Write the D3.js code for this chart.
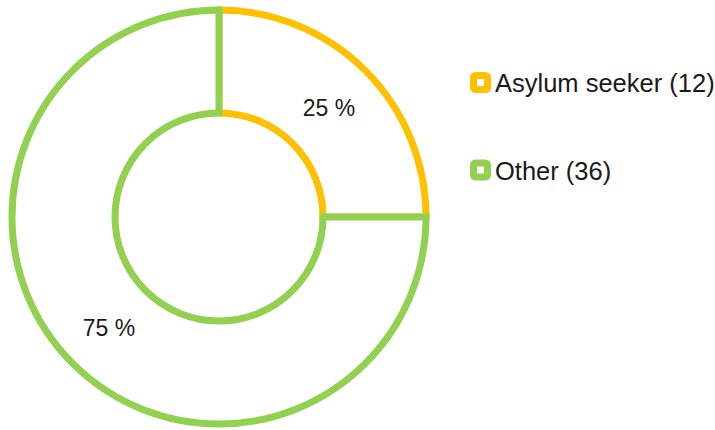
<!DOCTYPE html>
<html>
<head>
<meta charset="utf-8">
<script src="https://cdn.jsdelivr.net/npm/d3@7"></script>
<style>
  body { margin: 0; background: #fff; }
  text { font-family: "Liberation Sans", "DejaVu Sans", sans-serif; fill: #1a1a1a; }
</style>
</head>
<body>
<script>
// data
var categories = ["Asylum seeker", "Other"];
var counts = [12, 36];
var colors = ["#FFC000", "#92D050"];

var w = 715, h = 430;
var cx = 219, cy = 217;
var outerR = 207, innerR = 104;

var svg = d3.select("body").append("svg")
  .attr("width", w)
  .attr("height", h);

var total = d3.sum(counts);

var pie = d3.pie().sort(null).value(function(d) { return d; });
var arcs = pie(counts);

var arc = d3.arc()
  .innerRadius(innerR)
  .outerRadius(outerR);

var g = svg.append("g").attr("transform", "translate(" + cx + "," + cy + ")");

// slices: white fill, coloured outline
g.selectAll("path")
  .data(arcs)
  .enter()
  .append("path")
  .attr("d", arc)
  .attr("fill", "#fff")
  .attr("stroke", function(d, i) { return colors[i]; })
  .attr("stroke-width", 7)
  .attr("stroke-linejoin", "miter");

// percent labels at arc centroids
g.selectAll("text.pct")
  .data(arcs)
  .enter()
  .append("text")
  .attr("class", "pct")
  .attr("x", function(d) { return arc.centroid(d)[0]; })
  .attr("y", function(d) { return arc.centroid(d)[1] + 9; })
  .attr("text-anchor", "middle")
  .attr("font-size", "23px")
  .text(function(d) { return Math.round(d.value / total * 100) + " %"; });

// legend
var legend = svg.append("g").attr("transform", "translate(470,72)");
var item = legend.selectAll("g")
  .data(categories)
  .enter()
  .append("g")
  .attr("transform", function(d, i) { return "translate(0," + (i * 87.5) + ")"; });

item.append("rect")
  .attr("x", 3.5)
  .attr("y", 3.5)
  .attr("width", 14)
  .attr("height", 14)
  .attr("rx", 2)
  .attr("fill", "#fff")
  .attr("stroke", function(d, i) { return colors[i]; })
  .attr("stroke-width", 7);

item.append("text")
  .attr("x", 25)
  .attr("y", 20)
  .attr("font-size", "25.5px")
  .text(function(d, i) { return d + " (" + counts[i] + ")"; });
</script>
</body>
</html>
